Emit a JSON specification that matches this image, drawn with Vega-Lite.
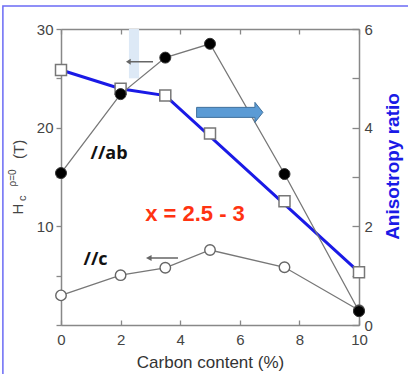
{
  "$schema": "https://vega.github.io/schema/vega-lite/v6.json",
  "width": 298,
  "height": 296,
  "autosize": {"type": "none"},
  "padding": {"left": 61, "top": 29, "right": 49, "bottom": 49},
  "background": "white",
  "config": {
    "view": {"stroke": null},
    "font": "Liberation Sans",
    "axis": {
      "grid": false,
      "domainColor": "#888888",
      "domainWidth": 1.5,
      "tickColor": "#888888",
      "tickWidth": 1.3,
      "labelColor": "#444444",
      "labelFontSize": 15,
      "labelFlush": false,
      "titleColor": "#444444",
      "titleFontWeight": "normal"
    }
  },
  "datasets": {
    "ab": [{"c": 0, "h": 15.4}, {"c": 2, "h": 23.4}, {"c": 3.5, "h": 27.1}, {"c": 5, "h": 28.5}, {"c": 7.5, "h": 15.3}, {"c": 10, "h": 1.4}],
    "cc": [{"c": 0, "h": 3.0}, {"c": 2, "h": 5.05}, {"c": 3.5, "h": 5.8}, {"c": 5, "h": 7.6}, {"c": 7.5, "h": 5.85}, {"c": 10, "h": 1.5}],
    "ratio": [{"c": 0, "r": 5.17}, {"c": 2, "r": 4.79}, {"c": 3.5, "r": 4.65}, {"c": 5, "r": 3.88}, {"c": 7.5, "r": 2.51}, {"c": 10, "r": 1.07}],
    "ratioLine": [{"c": 0, "r": 5.17}, {"c": 2, "r": 4.79}, {"c": 3.5, "r": 4.65}, {"c": 10, "r": 1.07}],
    "frame": [{"x1": -1.95, "x2": 12, "y1": 32.32, "y2": -6}],
    "pale": [{"x1": 2.28, "x2": 2.62, "y1": 30, "y2": 25.0}],
    "bigArrow": [{"c": 5.663, "h": 21.55}],
    "arrowTop": [{"c": 2.634, "h": 26.68}],
    "arrowBottom": [{"c": 3.389, "h": 6.79}],
    "tags": [{"c": 1.611, "h": 17.33, "t": "//ab"}, {"c": 1.158, "h": 6.59, "t": "//c"}],
    "note": [{"c": 4.497, "h": 11.25, "t": "x = 2.5 - 3"}],
    "ytitleBig": [{"c": -1.43, "h": 11.75, "t": "H"}, {"c": -1.41, "h": 17.8, "t": "(T)"}],
    "ytitleSub": [{"c": -1.29, "h": 12.85, "t": "c"}],
    "ytitleSup": [{"c": -1.6, "h": 14.9, "t": "ρ=0"}]
  },
  "layer": [
    {
      "layer": [
        {
          "data": {"name": "ratioLine"},
          "mark": {"type": "line", "color": "#1a1ae6", "strokeWidth": 3},
          "encoding": {
            "x": {
              "field": "c", "type": "quantitative",
              "scale": {"domain": [0, 10], "nice": false},
              "axis": {"orient": "top", "values": [0, 1, 2, 3, 4, 5, 6, 7, 8, 9, 10], "labels": false, "tickSize": -5, "title": null}
            },
            "y": {
              "field": "r", "type": "quantitative",
              "scale": {"domain": [0, 6], "nice": false},
              "axis": {
                "orient": "right", "values": [0, 1, 2, 3, 4, 5, 6],
                "labelExpr": "datum.value % 2 == 0 ? datum.label : ''",
                "tickSize": -7, "labelPadding": 12,
                "title": "Anisotropy ratio", "titleColor": "#1a1ae6", "titleFontWeight": "bold", "titleFontSize": 19,
                "titleAngle": 270, "titleAlign": "center", "titleBaseline": "middle", "titleX": 33, "titleY": 137
              }
            }
          }
        },
        {
          "data": {"name": "ratio"},
          "mark": {"type": "point", "shape": "square", "filled": true, "fill": "white", "stroke": "#777777", "strokeWidth": 1.5, "size": 121, "opacity": 1},
          "encoding": {
            "x": {"field": "c", "type": "quantitative"},
            "y": {"field": "r", "type": "quantitative"}
          }
        }
      ]
    },
    {
      "layer": [
        {
          "data": {"name": "pale"},
          "mark": {"type": "rect", "fill": "#dde9f6"},
          "encoding": {
            "x": {
              "field": "x1", "type": "quantitative",
              "scale": {"domain": [0, 10], "nice": false},
              "axis": {
                "orient": "bottom", "values": [0, 1, 2, 3, 4, 5, 6, 7, 8, 9, 10],
                "labelExpr": "datum.value % 2 == 0 ? datum.label : ''",
                "tickSize": -5, "labelPadding": 12,
                "title": "Carbon content (%)", "titleFontSize": 17, "titlePadding": 7, "titleColor": "#333333"
              }
            },
            "x2": {"field": "x2"},
            "y": {
              "field": "y1", "type": "quantitative",
              "scale": {"domain": [0, 30], "nice": false},
              "axis": {
                "orient": "left", "values": [0, 5, 10, 15, 20, 25, 30],
                "labelExpr": "datum.value % 10 == 0 && datum.value > 0 ? datum.label : ''",
                "tickSize": 5, "labelPadding": 3, "title": null
              }
            },
            "y2": {"field": "y2"}
          }
        },
        {
          "data": {"name": "frame"},
          "mark": {"type": "rect", "fill": null, "filled": false, "stroke": "#6b6bf5", "strokeWidth": 1.5},
          "encoding": {
            "x": {"field": "x1", "type": "quantitative"},
            "x2": {"field": "x2"},
            "y": {"field": "y1", "type": "quantitative"},
            "y2": {"field": "y2"}
          }
        },
        {
          "data": {"name": "ab"},
          "mark": {"type": "line", "color": "#777777", "strokeWidth": 1.3},
          "encoding": {
            "x": {"field": "c", "type": "quantitative"},
            "y": {"field": "h", "type": "quantitative"}
          }
        },
        {
          "data": {"name": "cc"},
          "mark": {"type": "line", "color": "#777777", "strokeWidth": 1.3},
          "encoding": {
            "x": {"field": "c", "type": "quantitative"},
            "y": {"field": "h", "type": "quantitative"}
          }
        },
        {
          "data": {"name": "cc"},
          "mark": {"type": "point", "shape": "circle", "filled": true, "fill": "white", "stroke": "#666666", "strokeWidth": 1.4, "size": 110, "opacity": 1},
          "encoding": {
            "x": {"field": "c", "type": "quantitative"},
            "y": {"field": "h", "type": "quantitative"}
          }
        },
        {
          "data": {"name": "ab"},
          "mark": {"type": "point", "shape": "circle", "filled": true, "fill": "black", "stroke": "#333333", "strokeWidth": 1, "size": 121, "opacity": 1},
          "encoding": {
            "x": {"field": "c", "type": "quantitative"},
            "y": {"field": "h", "type": "quantitative"}
          }
        },
        {
          "data": {"name": "bigArrow"},
          "mark": {"type": "point", "shape": "M-1,-0.151L0.759,-0.151L0.759,-0.302L1,0L0.759,0.302L0.759,0.151L-1,0.151Z", "filled": true, "fill": "#5b9bd5", "stroke": "#41719c", "strokeWidth": 1, "size": 4396, "opacity": 1},
          "encoding": {
            "x": {"field": "c", "type": "quantitative"},
            "y": {"field": "h", "type": "quantitative"}
          }
        },
        {
          "data": {"name": "arrowTop"},
          "mark": {"type": "point", "shape": "M1,-0.05L-0.65,-0.05L-0.65,-0.22L-1,0L-0.65,0.22L-0.65,0.05L1,0.05Z", "filled": true, "fill": "#666666", "strokeWidth": 0, "size": 729, "opacity": 1},
          "encoding": {
            "x": {"field": "c", "type": "quantitative"},
            "y": {"field": "h", "type": "quantitative"}
          }
        },
        {
          "data": {"name": "arrowBottom"},
          "mark": {"type": "point", "shape": "M1,-0.045L-0.65,-0.045L-0.65,-0.19L-1,0L-0.65,0.19L-0.65,0.045L1,0.045Z", "filled": true, "fill": "#666666", "strokeWidth": 0, "size": 1024, "opacity": 1},
          "encoding": {
            "x": {"field": "c", "type": "quantitative"},
            "y": {"field": "h", "type": "quantitative"}
          }
        },
        {
          "data": {"name": "tags"},
          "mark": {"type": "text", "font": "Open Sans", "fontWeight": "bold", "fontSize": 18, "color": "#111111", "align": "center", "baseline": "middle"},
          "encoding": {
            "x": {"field": "c", "type": "quantitative"},
            "y": {"field": "h", "type": "quantitative"},
            "text": {"field": "t"}
          }
        },
        {
          "data": {"name": "note"},
          "mark": {"type": "text", "font": "Liberation Sans", "fontWeight": "bold", "fontSize": 22, "color": "#ff3311", "align": "center", "baseline": "middle"},
          "encoding": {
            "x": {"field": "c", "type": "quantitative"},
            "y": {"field": "h", "type": "quantitative"},
            "text": {"field": "t"}
          }
        },
        {
          "data": {"name": "ytitleBig"},
          "mark": {"type": "text", "fontSize": 15, "color": "#444444", "align": "center", "baseline": "middle", "angle": 270},
          "encoding": {
            "x": {"field": "c", "type": "quantitative"},
            "y": {"field": "h", "type": "quantitative"},
            "text": {"field": "t"}
          }
        },
        {
          "data": {"name": "ytitleSub"},
          "mark": {"type": "text", "fontSize": 11, "color": "#444444", "align": "center", "baseline": "middle", "angle": 270},
          "encoding": {
            "x": {"field": "c", "type": "quantitative"},
            "y": {"field": "h", "type": "quantitative"},
            "text": {"field": "t"}
          }
        },
        {
          "data": {"name": "ytitleSup"},
          "mark": {"type": "text", "fontSize": 10, "color": "#444444", "align": "center", "baseline": "middle", "angle": 270},
          "encoding": {
            "x": {"field": "c", "type": "quantitative"},
            "y": {"field": "h", "type": "quantitative"},
            "text": {"field": "t"}
          }
        }
      ]
    }
  ],
  "resolve": {"scale": {"x": "independent", "y": "independent"}}
}
